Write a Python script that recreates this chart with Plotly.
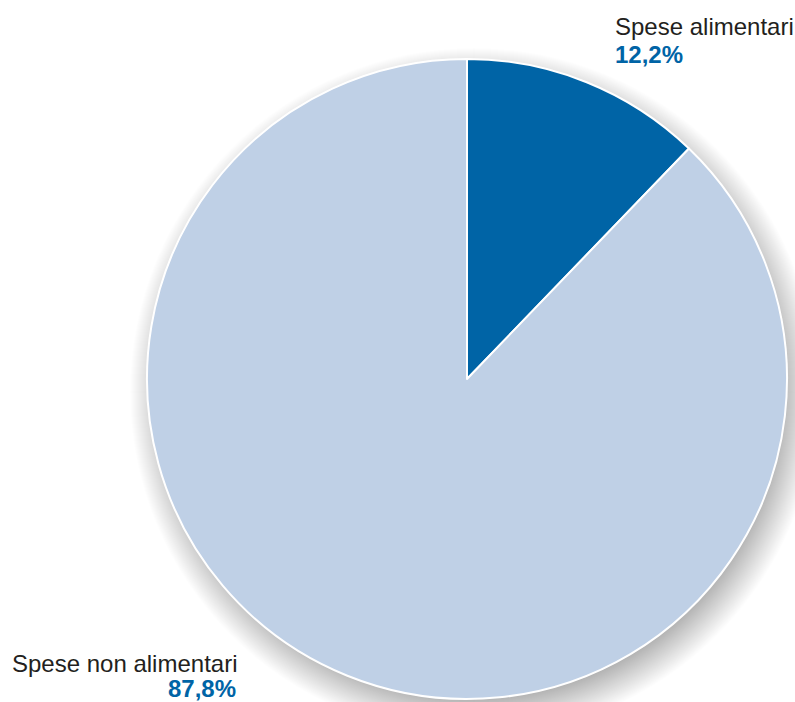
import plotly.graph_objects as go

# Share of household spending
categories = ["Spese alimentari", "Spese non alimentari"]
shares = [12.2, 87.8]
colors = ["#0064A6", "#BFD0E6"]

W, H = 795, 702
# pie placement in pixels (centre and radius)
cx, cy, r = 467, 379, 320


def px(x):
    return x / W


def py(y):
    return 1 - y / H


fig = go.Figure()

fig.add_trace(go.Pie(
    labels=categories,
    values=shares,
    sort=False,
    direction="clockwise",
    rotation=0,
    marker=dict(colors=colors, line=dict(color="white", width=2)),
    textinfo="none",
    hoverinfo="label+percent",
    showlegend=False,
    domain=dict(x=[px(cx - r), px(cx + r)], y=[py(cy + r), py(cy - r)]),
))

# soft drop shadow under the disc, built from stacked translucent circles
shapes = []
off_x, off_y = 7, 13
for k in range(24, -16, -1):
    rr = r + k
    shapes.append(dict(
        type="circle", xref="paper", yref="paper", layer="below",
        x0=px(cx + off_x - rr), x1=px(cx + off_x + rr),
        y0=py(cy + off_y + rr), y1=py(cy + off_y - rr),
        fillcolor="rgba(0,0,0,0.0078)", line=dict(width=0),
    ))


def fmt(v):
    return f"{v:.1f}".replace(".", ",") + "%"


font_name = "Liberation Sans, Arial, sans-serif"
annotations = [
    dict(x=px(613), y=py(27), xref="paper", yref="paper", xanchor="left", yanchor="middle",
         text=categories[0], showarrow=False, font=dict(family=font_name, size=24, color="#231F20")),
    dict(x=px(613), y=py(55), xref="paper", yref="paper", xanchor="left", yanchor="middle",
         text=f"<b>{fmt(shares[0])}</b>", showarrow=False, font=dict(family=font_name, size=24, color="#0064A6")),
    dict(x=px(239), y=py(663), xref="paper", yref="paper", xanchor="right", yanchor="middle",
         text=categories[1], showarrow=False, font=dict(family=font_name, size=24, color="#231F20")),
    dict(x=px(238), y=py(688), xref="paper", yref="paper", xanchor="right", yanchor="middle",
         text=f"<b>{fmt(shares[1])}</b>", showarrow=False, font=dict(family=font_name, size=24, color="#0064A6")),
]

fig.update_layout(
    width=W, height=H,
    margin=dict(l=0, r=0, t=0, b=0),
    paper_bgcolor="white",
    plot_bgcolor="white",
    shapes=shapes,
    annotations=annotations,
)

fig.write_html("out.html")
